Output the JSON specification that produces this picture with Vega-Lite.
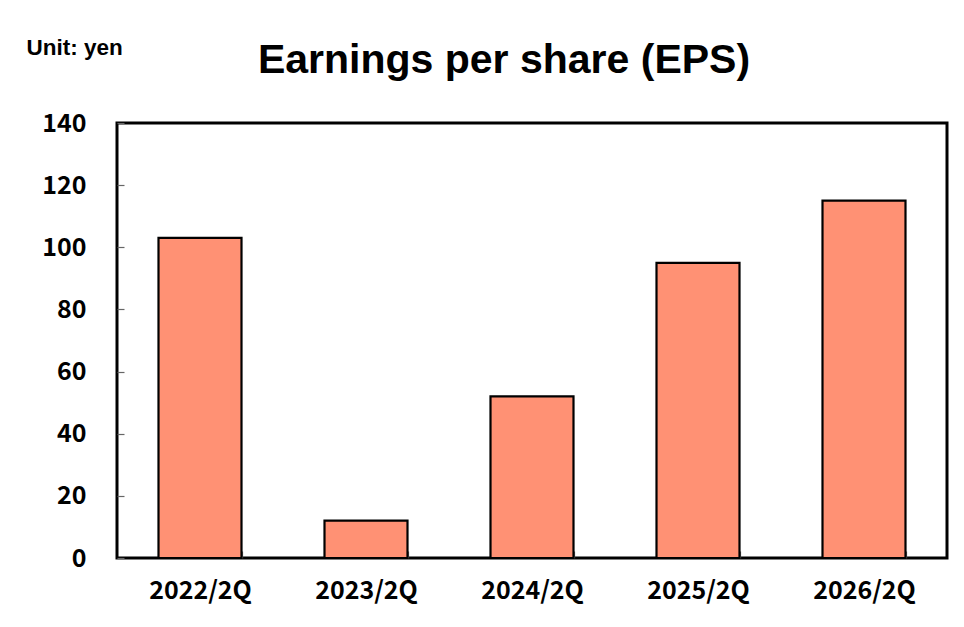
{
  "$schema": "https://vega.github.io/schema/vega-lite/v6.json",
  "width": 830,
  "height": 435,
  "autosize": {"type": "none"},
  "padding": {"left": 117, "top": 123, "right": 17, "bottom": 69},
  "background": "white",
  "title": {
    "text": "Earnings per share (EPS)",
    "font": "Liberation Sans",
    "fontSize": 41,
    "fontWeight": "bold",
    "color": "black",
    "anchor": "middle",
    "dx": -28,
    "dy": 56,
    "offset": 10
  },
  "data": {
    "values": [
      {"period": "2022/2Q", "eps": 103},
      {"period": "2023/2Q", "eps": 12},
      {"period": "2024/2Q", "eps": 52},
      {"period": "2025/2Q", "eps": 95},
      {"period": "2026/2Q", "eps": 115}
    ]
  },
  "mark": {"type": "bar", "fill": "#FF9174", "stroke": "black", "strokeWidth": 2.2},
  "encoding": {
    "x": {
      "field": "period",
      "type": "nominal",
      "sort": null,
      "scale": {"paddingInner": 0.5, "paddingOuter": 0.25},
      "axis": {
        "title": null,
        "labelAngle": 0,
        "tickBand": "extent",
        "tickSize": -7,
        "labelPadding": 27,
        "domain": false
      }
    },
    "y": {
      "field": "eps",
      "type": "quantitative",
      "scale": {"domain": [0, 140], "nice": false},
      "axis": {
        "values": [0, 20, 40, 60, 80, 100, 120, 140],
        "tickSize": -7,
        "labelPadding": 38,
        "grid": false,
        "domain": false,
        "title": "Unit: yen",
        "titleAngle": 0,
        "titleX": -91,
        "titleY": -69,
        "titleAlign": "left",
        "titleBaseline": "alphabetic",
        "titleFont": "Liberation Sans",
        "titleFontSize": 22.5,
        "titleFontWeight": "bold",
        "titleColor": "black"
      }
    }
  },
  "config": {
    "view": {"stroke": "black", "strokeWidth": 3},
    "axis": {
      "labelFont": "Noto Sans CJK JP",
      "labelFontSize": 25,
      "labelFontWeight": "bold",
      "labelColor": "black",
      "tickColor": "#666666",
      "tickWidth": 1.2
    }
  }
}
